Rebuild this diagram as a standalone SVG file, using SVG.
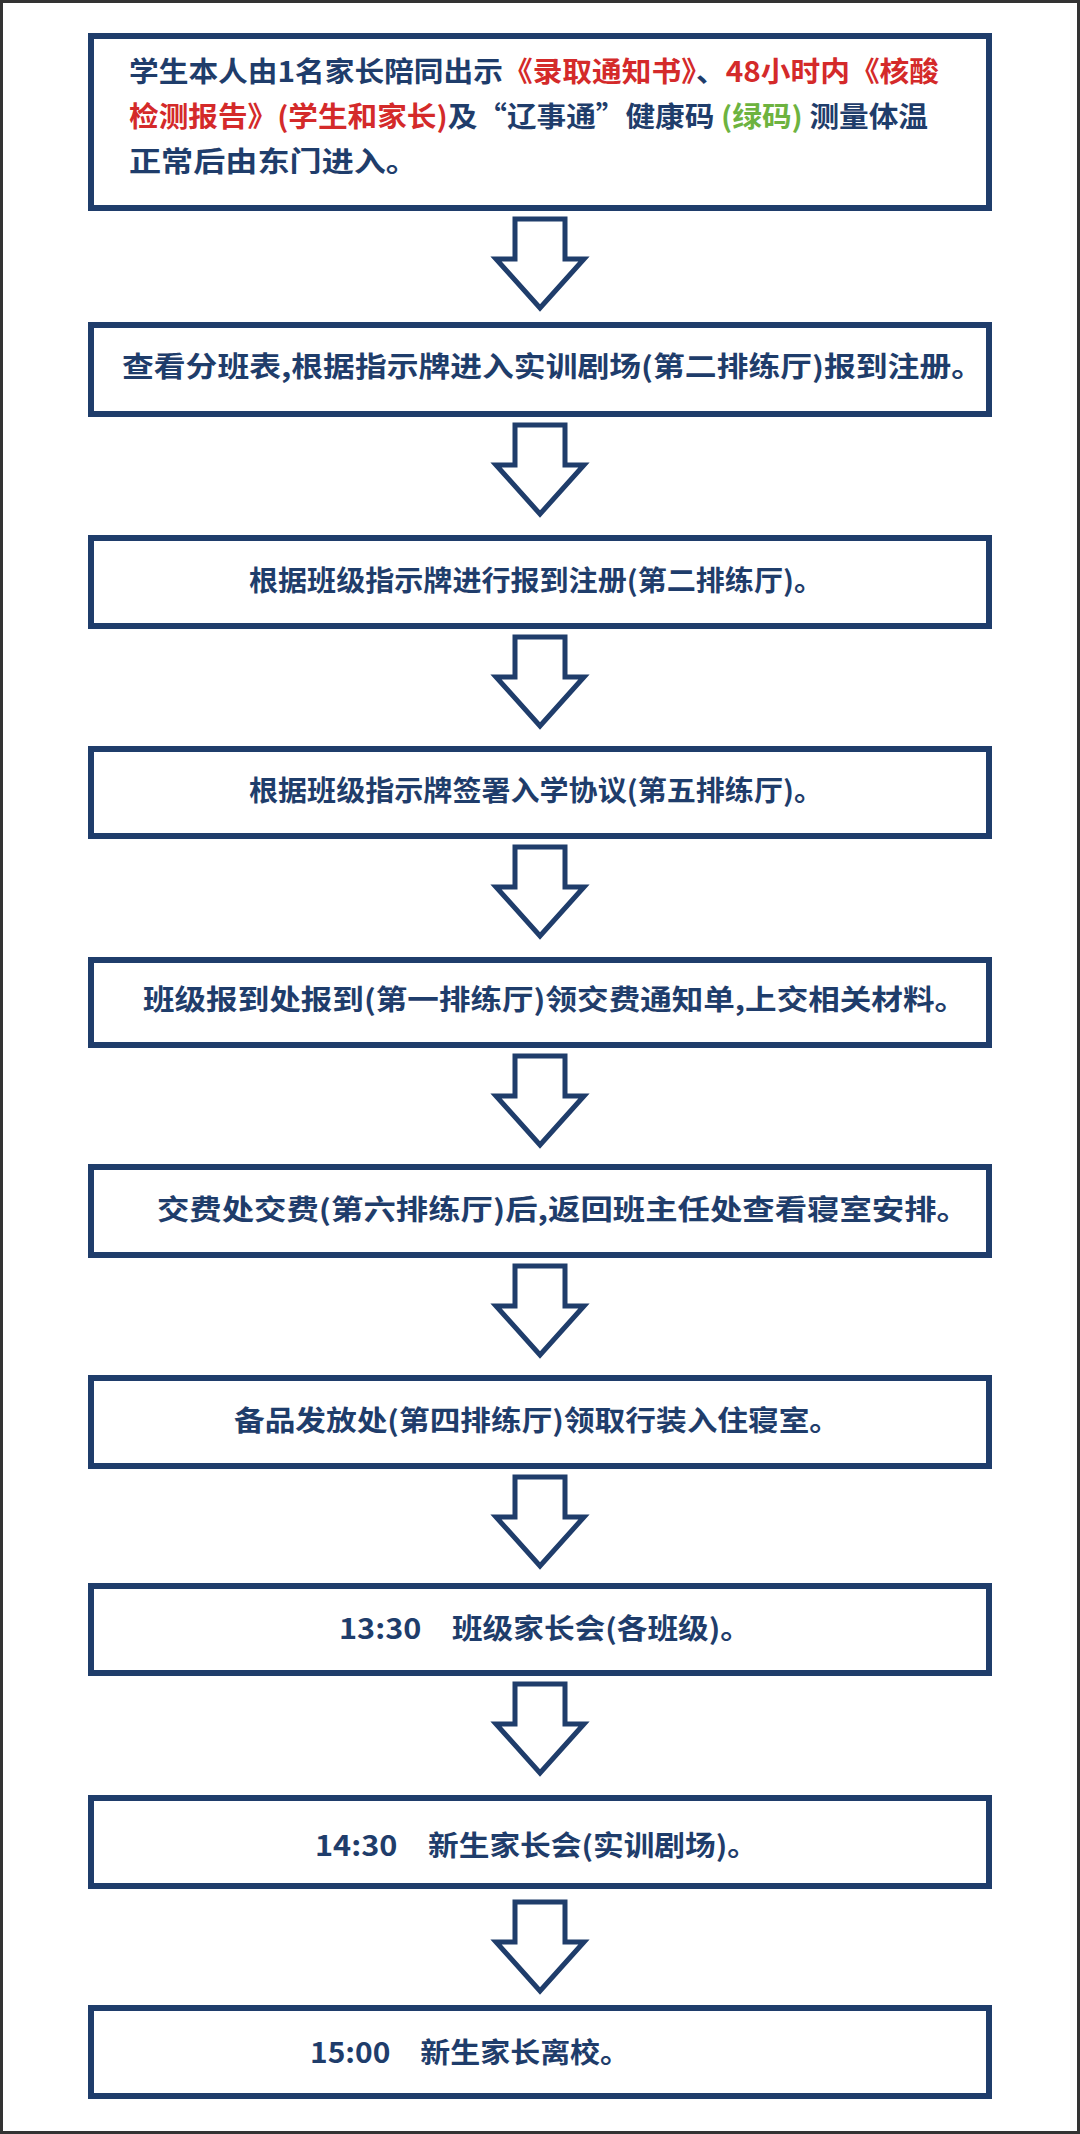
<svg xmlns="http://www.w3.org/2000/svg" width="1080" height="2134" viewBox="0 0 1080 2134">
<style>
.box{fill:#fff;stroke:#1f3d6b;stroke-width:6}
.arr{fill:#fff;stroke:#1f3d6b;stroke-width:5;stroke-linejoin:miter}
text{font-family:"Noto Sans CJK SC","Noto Sans",sans-serif;font-weight:bold;font-size:28px;fill:#1f3d6b}
.r{fill:#d42a2a}.g{fill:#6db33f}
</style>
<rect x="1.5" y="1.5" width="1077" height="2131" fill="#fff" stroke="#333" stroke-width="3"/>
<g id="connectors">
<path class="arr" d="M515,219 H565 V259 H584 L540,308 L496,259 H515 Z"/>
<path class="arr" d="M515,425 H565 V465 H584 L540,514 L496,465 H515 Z"/>
<path class="arr" d="M515,637 H565 V677 H584 L540,726 L496,677 H515 Z"/>
<path class="arr" d="M515,847 H565 V887 H584 L540,936 L496,887 H515 Z"/>
<path class="arr" d="M515,1056 H565 V1096 H584 L540,1145 L496,1096 H515 Z"/>
<path class="arr" d="M515,1266 H565 V1306 H584 L540,1355 L496,1306 H515 Z"/>
<path class="arr" d="M515,1477 H565 V1517 H584 L540,1566 L496,1517 H515 Z"/>
<path class="arr" d="M515,1684 H565 V1724 H584 L540,1773 L496,1724 H515 Z"/>
<path class="arr" d="M515,1902 H565 V1942 H584 L540,1991 L496,1942 H515 Z"/>
</g>
<g id="n1"><rect class="box" x="91" y="36" width="898" height="172"/>
<text x="129" y="82" textLength="810" lengthAdjust="spacingAndGlyphs">学生本人由1名家长陪同出示<tspan class="r">《录取通知书》</tspan>、<tspan class="r">48小时内《核酸</tspan></text>
<text x="129" y="127" textLength="799" lengthAdjust="spacingAndGlyphs"><tspan class="r">检测报告》(学生和家长)</tspan>及“辽事通”健康码 <tspan class="g">(绿码)</tspan> 测量体温</text>
<text x="129" y="172" textLength="289" lengthAdjust="spacingAndGlyphs">正常后由东门进入。</text></g>
<g id="n2"><rect class="box" x="91" y="325" width="898" height="89"/>
<text x="122" y="377" textLength="861" lengthAdjust="spacingAndGlyphs">查看分班表,根据指示牌进入实训剧场(第二排练厅)报到注册。</text></g>
<g id="n3"><rect class="box" x="91" y="538" width="898" height="88"/>
<text x="249" y="591" textLength="574" lengthAdjust="spacingAndGlyphs">根据班级指示牌进行报到注册(第二排练厅)。</text></g>
<g id="n4"><rect class="box" x="91" y="749" width="898" height="87"/>
<text x="249" y="801" textLength="574" lengthAdjust="spacingAndGlyphs">根据班级指示牌签署入学协议(第五排练厅)。</text></g>
<g id="n5"><rect class="box" x="91" y="960" width="898" height="85"/>
<text x="143" y="1010" textLength="823" lengthAdjust="spacingAndGlyphs">班级报到处报到(第一排练厅)领交费通知单,上交相关材料。</text></g>
<g id="n6"><rect class="box" x="91" y="1167" width="898" height="88"/>
<text x="157" y="1220" textLength="812" lengthAdjust="spacingAndGlyphs">交费处交费(第六排练厅)后,返回班主任处查看寝室安排。</text></g>
<g id="n7"><rect class="box" x="91" y="1378" width="898" height="88"/>
<text x="234" y="1431" textLength="606" lengthAdjust="spacingAndGlyphs">备品发放处(第四排练厅)领取行装入住寝室。</text></g>
<g id="n8"><rect class="box" x="91" y="1586" width="898" height="87"/>
<text x="339" y="1639" textLength="412" lengthAdjust="spacingAndGlyphs">13:30　班级家长会(各班级)。</text></g>
<g id="n9"><rect class="box" x="91" y="1798" width="898" height="88"/>
<text x="315" y="1856" textLength="443" lengthAdjust="spacingAndGlyphs">14:30　新生家长会(实训剧场)。</text></g>
<g id="n10"><rect class="box" x="91" y="2008" width="898" height="88"/>
<text x="310" y="2063" textLength="320" lengthAdjust="spacingAndGlyphs">15:00　新生家长离校。</text></g>
</svg>
